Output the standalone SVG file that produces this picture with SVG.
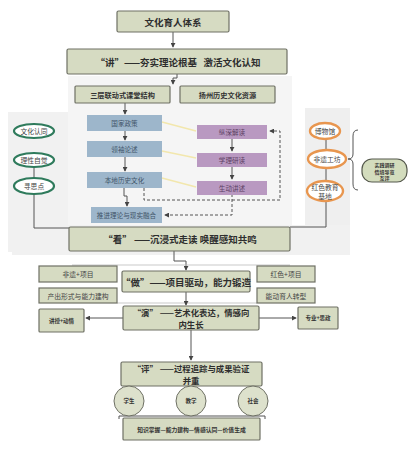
<svg xmlns="http://www.w3.org/2000/svg" width="417" height="451" viewBox="0 0 417 451">
<style>
text{font-family:"Noto Sans CJK SC","Noto Sans",sans-serif;text-anchor:middle;dominant-baseline:central;fill:#333}
.box{fill:#d6dbc2;stroke:#6e7064;stroke-width:1.2}
.big{font-size:9.5px;font-weight:bold;fill:#2e2e2e}
.two{font-size:8.4px;font-weight:bold;fill:#2e2e2e}
.mid{font-size:7.2px;font-weight:bold}
.sm{font-size:6.8px;fill:#444}
.xs{font-size:5.5px;font-weight:bold}
.blue{fill:#9db6cb}
.blue-t{font-size:6.6px;fill:#3f5468}
.pur{fill:#b999c1}
.pur-t{font-size:6.6px;fill:#5b3f63}
.gov{fill:#fff;stroke:#2f7b5c;stroke-width:2.2}
.org{fill:#fff;stroke:#e8964f;stroke-width:2.4}
.ln{fill:none;stroke:#555;stroke-width:1}
.fl{fill:none;stroke:#bbb;stroke-width:0.8}
.ds{fill:none;stroke:#555;stroke-width:1;stroke-dasharray:3,2}
.yl{fill:none;stroke:#f2e7ad;stroke-width:1.5}
.circ{fill:#dde1cc;stroke:#6e7064;stroke-width:1}
</style>
<defs>
<marker id="ar" viewBox="0 0 6 6" refX="5" refY="3" markerWidth="5" markerHeight="5" orient="auto"><path d="M0,0L6,3L0,6z" fill="#444"/></marker>
</defs>
<rect width="417" height="451" fill="#fff"/>
<g id="bg">
<rect x="8" y="112" width="60" height="140" fill="#f1f1f1"/>
<rect x="68" y="76" width="224" height="162" fill="#f5f5f5"/>
<rect x="305" y="108" width="45" height="145" fill="#efefef"/>
<rect x="12" y="225" width="338" height="30" fill="#f1f1f1"/>
</g>
<g id="connectors">
<path class="ln" d="M173,32V47" marker-end="url(#ar)"/>
<path class="ln" d="M177,74V78H173V84" marker-end="url(#ar)"/>
<path class="ln" d="M125,103V114" marker-end="url(#ar)"/>
<path class="ln" d="M125,131V140" marker-end="url(#ar)"/>
<path class="ln" d="M125,157V171" marker-end="url(#ar)"/>
<path class="ln" d="M124,187V196H127V206" marker-end="url(#ar)"/>
<path class="ln" d="M232,139V151" marker-end="url(#ar)"/>
<path class="ln" d="M232,167V179" marker-end="url(#ar)"/>
<path class="yl" d="M162,122L196,131M162,151L196,158M162,178L196,187"/>
<path class="ds" d="M232,194V215H165" marker-end="url(#ar)"/>
<path class="ds" d="M144,188V200H280V131H270" marker-end="url(#ar)"/>
<path class="ln" d="M34,167V178"/>
<path class="ln" d="M34,194V228H69"/>
<path class="ln" d="M326,139V150M326,168V182"/>
<path class="ln" d="M326,200V227H290"/>
<path class="ln" d="M358,130Q353,130 353,136V154Q353,159 348,159Q353,159 353,164V184Q353,190 358,190"/>
<path class="ln" d="M174,251V261H186V270" marker-end="url(#ar)"/>
<path class="fl" d="M72,265H290M117,303H257"/>
<path class="ln" d="M186,292V305" marker-end="url(#ar)"/>
<path class="ln" d="M123,318H86" marker-end="url(#ar)"/>
<path class="ln" d="M259,318H296" marker-end="url(#ar)"/>
<path class="ln" d="M191,330V360" marker-end="url(#ar)"/>
<path class="ln" d="M119,419V416H265V419" stroke="#777"/>
</g>
<g id="n-title"><rect class="box" x="117" y="11" width="112" height="21" rx="1.5"/><text class="big" x="173" y="21.5">文化育人体系</text></g>
<g id="n-jiang"><rect class="box" x="67" y="49" width="220" height="25" rx="1.5"/><text class="big" x="178" y="61.5" xml:space="preserve">“讲”——夯实理论根基   激活文化认知</text></g>
<g id="n-sanceng"><rect class="box" x="75" y="86" width="95" height="17" rx="1"/><text class="mid" x="122.5" y="94.5">三层联动式课堂结构</text></g>
<g id="n-yangzhou"><rect class="box" x="180" y="86" width="95" height="17" rx="1"/><text class="mid" x="227.5" y="94.5">扬州历史文化资源</text></g>
<g id="n-guojia"><rect class="blue" x="87" y="115" width="75" height="16"/><text class="blue-t" x="124.5" y="123">国家政策</text></g>
<g id="n-lingxiu"><rect class="blue" x="87" y="141" width="75" height="16"/><text class="blue-t" x="124.5" y="149">领袖论述</text></g>
<g id="n-bendi"><rect class="blue" x="87" y="172" width="75" height="16"/><text class="blue-t" x="124.5" y="180">本地历史文化</text></g>
<g id="n-tuijin"><rect class="blue" x="91" y="207" width="71" height="16"/><text class="blue-t" x="126.5" y="215">推进理论与现实融合</text></g>
<g id="n-zongshen"><rect class="pur" x="197" y="125" width="70" height="14"/><text class="pur-t" x="232" y="132">纵深解读</text></g>
<g id="n-xueli"><rect class="pur" x="197" y="153" width="70" height="14"/><text class="pur-t" x="232" y="160">学理研读</text></g>
<g id="n-shengdong"><rect class="pur" x="197" y="181" width="70" height="14"/><text class="pur-t" x="232" y="188">生动讲述</text></g>
<g id="n-rentong"><ellipse class="gov" cx="34" cy="131" rx="20" ry="7"/><text class="sm" x="34" y="131">文化认同</text></g>
<g id="n-lixing"><ellipse class="gov" cx="34" cy="160" rx="20" ry="7"/><text class="sm" x="34" y="160">理性自觉</text></g>
<g id="n-xunsi"><ellipse class="gov" cx="34" cy="186" rx="20" ry="8"/><text class="sm" x="34" y="186">寻思点</text></g>
<g id="n-bowuguan"><ellipse class="org" cx="325" cy="131" rx="15" ry="8"/><text class="sm" x="325" y="131">博物馆</text></g>
<g id="n-feiyi"><ellipse class="org" cx="327" cy="159" rx="19" ry="9"/><text class="sm" x="327" y="159">非遗工坊</text></g>
<g id="n-hongse"><ellipse class="org" cx="325" cy="191" rx="18" ry="10"/><text class="sm" x="325" y="187">红色教育<tspan x="325" dy="8.5">基地</tspan></text></g>
<g id="n-shijian"><rect x="362" y="159" width="45" height="23" rx="10" fill="#d3dcbd" stroke="#55594c" stroke-width="1.2"/><text class="xs" x="384.5" y="164" style="font-size:5px">实践调研<tspan x="384.5" dy="6.5">情境导览</tspan><tspan x="384.5" dy="6.5">互评</tspan></text></g>
<g id="n-kan"><rect class="box" x="69" y="227" width="221" height="24" rx="1.5"/><text class="big" x="180" y="239" xml:space="preserve">“看” ——沉浸式走读 唤醒感知共鸣</text></g>
<g id="n-feiyixm"><rect class="box" x="39" y="266" width="78" height="16"/><text class="sm" x="78" y="274">非遗+项目</text></g>
<g id="n-hongsexm"><rect class="box" x="257" y="266" width="58" height="16"/><text class="sm" x="286" y="274">红色+项目</text></g>
<g id="n-chanchu"><rect class="box" x="39" y="288" width="78" height="15"/><text class="sm" x="78" y="295.5">产出形式与能力建构</text></g>
<g id="n-nengdong"><rect class="box" x="257" y="288" width="58" height="15"/><text class="sm" x="286" y="295.5">能动育人转型</text></g>
<g id="n-zuo"><rect class="box" x="122" y="271" width="128" height="21" rx="1.5"/><text class="big" x="186" y="281.5">“做”——项目驱动，能力锻造</text></g>
<g id="n-yan"><rect class="box" x="123" y="306" width="136" height="24" rx="1.5"/><text class="two" x="191" y="312">“演” ——艺术化表达，情感向<tspan x="191" dy="12.3">内生长</tspan></text></g>
<g id="n-jiangshou"><rect class="box" x="39" y="309" width="45" height="23" rx="1"/><text class="xs" x="61.5" y="320.5">讲授+动情</text></g>
<g id="n-zhuanye"><rect class="box" x="298" y="307" width="40" height="22" rx="1"/><text class="xs" x="318" y="318">专业+思政</text></g>
<g id="n-ping"><rect class="box" x="121" y="362" width="141" height="24" rx="1.5"/><text class="two" x="191" y="368">“评” ——过程追踪与成果验证<tspan x="191" dy="12.3">并重</tspan></text></g>
<g id="n-xuesheng"><circle class="circ" cx="129" cy="401" r="15"/><text class="xs" x="129" y="401">学生</text></g>
<g id="n-jiaoxue"><circle class="circ" cx="191" cy="401" r="15"/><text class="xs" x="191" y="401">教学</text></g>
<g id="n-shehui"><circle class="circ" cx="253" cy="401" r="15"/><text class="xs" x="253" y="401">社会</text></g>
<g id="n-zhishi"><rect class="box" x="123" y="418" width="137" height="22" rx="1"/><text class="xs" x="191.5" y="429" style="font-size:5.8px">知识掌握—能力建构—情感认同—价值生成</text></g>
</svg>
